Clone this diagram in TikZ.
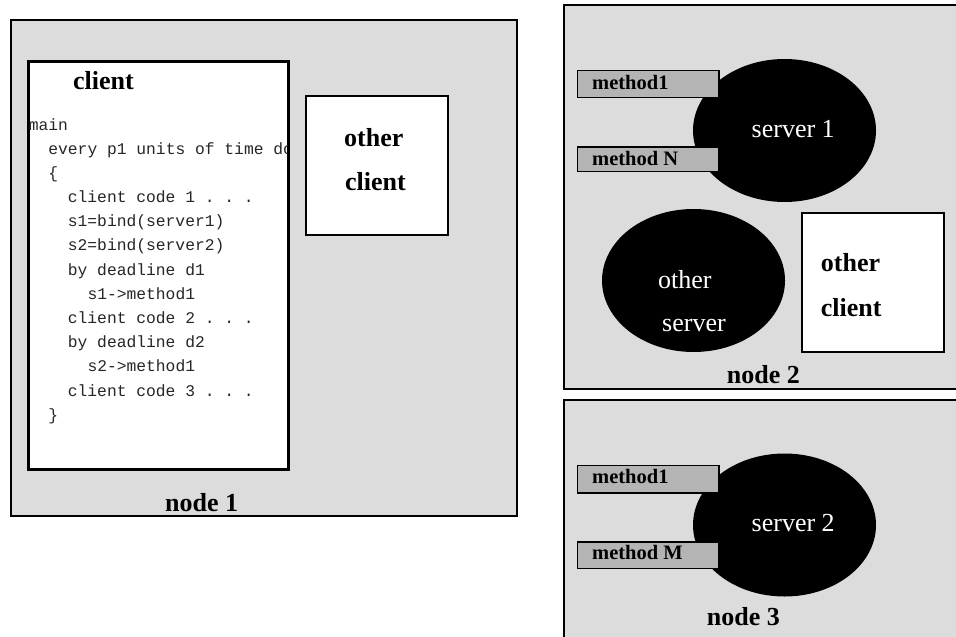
\documentclass[tikz,border=0pt]{standalone}
\usepackage{fontspec}
\setmainfont{Liberation Serif}
\setmonofont{Liberation Mono}
\usetikzlibrary{shapes.geometric}
\definecolor{hostgray}{RGB}{220,220,220}
\definecolor{methodgray}{RGB}{180,180,180}
\tikzset{
  host/.style={draw, line width=2pt, fill=hostgray, rectangle, inner sep=0pt, anchor=north west},
  procbox/.style={draw, line width=2pt, fill=white, rectangle, inner sep=0pt, anchor=north west},
  methodbox/.style={draw, line width=1.6pt, fill=methodgray, rectangle, inner sep=0pt, anchor=north west},
  server/.style={ellipse, fill=black, inner sep=0pt, minimum width=183pt, minimum height=143pt},
  boldlbl/.style={inner sep=0pt, anchor=base west, font=\bfseries\fontsize{26}{26}\selectfont},
  srvlbl/.style={inner sep=0pt, anchor=base west, text=white, font=\fontsize{26}{26}\selectfont},
  methlbl/.style={inner sep=0pt, anchor=base west, font=\bfseries\fontsize{20.5}{20.5}\selectfont},
  codeline/.style={inner sep=0pt, anchor=base west, text=black!85, font=\ttfamily\fontsize{16.3}{16.3}\selectfont},
}
\begin{document}
\begin{tikzpicture}[x=1pt, y=-1pt]
  \useasboundingbox (0,0) rectangle (956,637);
  \clip (0,0) rectangle (956,637);

  % ---- node 1 ----
  \node[host, minimum width=505.7pt, minimum height=496pt] (node1) at (10.3,19) {};
  \node[procbox, minimum width=259pt, minimum height=407pt] (client) at (28,60.5) {};
  \node[procbox, minimum width=142pt, minimum height=139pt] (oc1) at (305,94.5) {};

  \node[boldlbl] (clienttitle) at (73,89.3) {client};
  % program listing, cut off at the client box edges
  \begin{scope}
    \clip (client.north west) rectangle (client.south east);
    \node[codeline] (c0)  at (28.6,130.0) {main};
    \node[codeline] (c1)  at (48.2,154.2) {every p1 units of time do};
    \node[codeline] (c2)  at (48.2,178.4) {\{};
    \node[codeline] (c3)  at (67.7,202.5) {client code 1 . . .};
    \node[codeline] (c4)  at (67.7,226.7) {s1=bind(server1)};
    \node[codeline] (c5)  at (67.7,250.9) {s2=bind(server2)};
    \node[codeline] (c6)  at (67.7,275.1) {by deadline d1};
    \node[codeline] (c7)  at (87.3,299.3) {s1->method1};
    \node[codeline] (c8)  at (67.7,323.4) {client code 2 . . .};
    \node[codeline] (c9)  at (67.7,347.6) {by deadline d2};
    \node[codeline] (c10) at (87.3,371.8) {s2->method1};
    \node[codeline] (c11) at (67.7,396.0) {client code 3 . . .};
    \node[codeline] (c12) at (48.2,420.2) {\}};
  \end{scope}
  \draw[line width=2pt] (client.north west) rectangle (client.south east);

  \node[boldlbl] (oc1a) at (344,146) {other};
  \node[boldlbl] (oc1b) at (345,190) {client};
  \node[boldlbl] (n1lbl) at (165,511.7) {node 1};

  % ---- node 2 ----
  \node[host, minimum width=400pt, minimum height=384pt] (node2) at (563,4) {};
  \node[server] (srv1) at (784.5,130.5) {};
  \node[server] (osrv) at (693.5,280.5) {};
  \node[procbox, minimum width=142pt, minimum height=139pt] (oc2) at (801,212) {};
  \node[methodbox, minimum width=141.5pt, minimum height=27pt] (m11) at (576.5,69.5) {};
  \node[methodbox, minimum width=141.5pt, minimum height=24.5pt] (m1n) at (576.5,146) {};

  \node[methlbl] (m11t) at (592,89.3) {method1};
  \node[methlbl] (m1nt) at (592,165) {method N};
  \node[srvlbl] (srv1t) at (751.5,137.3) {server 1};
  \node[srvlbl] (osrva) at (658,288) {other};
  \node[srvlbl] (osrvb) at (662,331.7) {server};
  \node[boldlbl] (oc2a) at (820.7,271.7) {other};
  \node[boldlbl] (oc2b) at (820.7,316.7) {client};
  \node[boldlbl] (n2lbl) at (726.7,383.3) {node 2};

  % ---- node 3 ----
  \node[host, minimum width=400pt, minimum height=250pt] (node3) at (563,399) {};
  \node[server] (srv2) at (784.5,525) {};
  \node[methodbox, minimum width=141.5pt, minimum height=27.5pt] (m21) at (576.5,464.5) {};
  \node[methodbox, minimum width=141.5pt, minimum height=26.5pt] (m2m) at (576.5,541) {};

  \node[methlbl] (m21t) at (592,483.3) {method1};
  \node[methlbl] (m2mt) at (592,559.3) {method M};
  \node[srvlbl] (srv2t) at (751.5,531.7) {server 2};
  \node[boldlbl] (n3lbl) at (706.7,625) {node 3};
\end{tikzpicture}
\end{document}
